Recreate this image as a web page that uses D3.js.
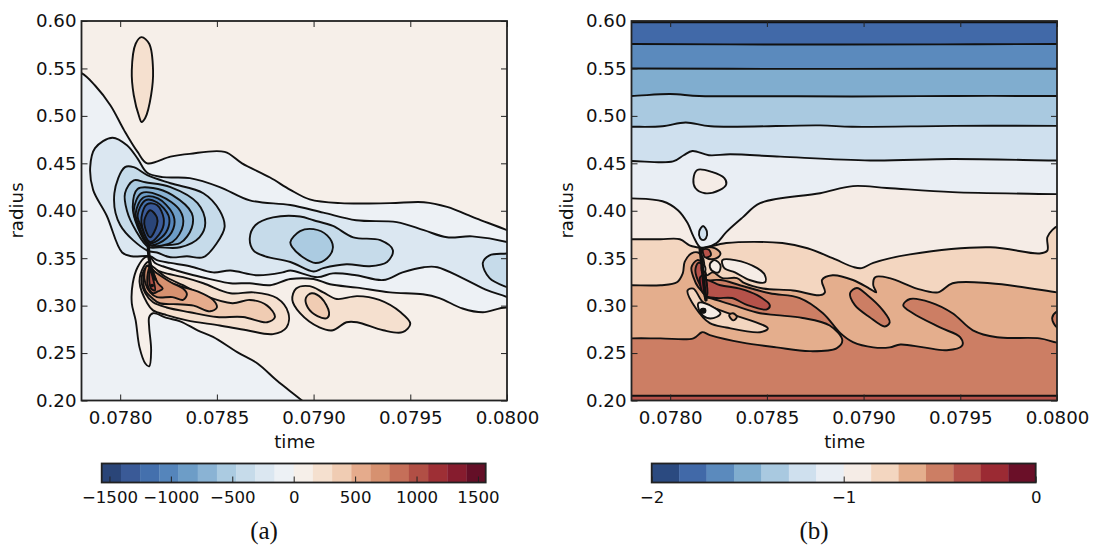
<!DOCTYPE html>
<html><head><meta charset="utf-8">
<script src="https://cdn.jsdelivr.net/npm/d3@7"></script>
<style>
html,body{margin:0;padding:0;background:#fff}
svg{display:block}
text{font-family:"DejaVu Sans",sans-serif;fill:#111}
</style></head><body>
<script>
// All contour points are [time x 1e5, radius x 1e3].
const timeTicks=[0.0780,0.0785,0.0790,0.0795,0.0800];
const radiusTicks=[0.20,0.25,0.30,0.35,0.40,0.45,0.50,0.55,0.60];
const barTicksA=[-1500,-1000,-500,0,500,1000,1500];
const barTicksB=[-2,-1,0];
const bandsA=["#2a4578","#3a5a97","#4470ad","#5585bb","#6d9dc7","#8ab3d4","#abcbe1","#c6dbea","#dbe7f1","#edf1f5","#f6efe9","#f5e0cf","#f0ccb3","#e5ab8c","#d69170","#c56f59","#b14f45","#9e2f35","#861c2e","#640f27"];
const bandsB=["#2b4a80","#4169a8","#5b8abd","#80adcf","#a9c9e0","#cfe0ee","#e9eef4","#f5ece6","#f3d6c0","#e4ae8d","#cc7e64","#b5524a","#9b2a33","#6a0f28"];

const aZero=[[7770,550],[7780,545],[7787,532],[7795,511],[7802,485],[7809,462],[7814,450],[7826,457],[7836,460],[7854,462],[7863,450],[7877.5,435],[7888,422],[7898,412],[7914,408],[7939.5,408],[7957,409],[7969,404],[7984,392],[8000,379.5],[8012,369],[8012,290],[8000,298],[7987.5,293],[7977,297],[7965,308],[7956.5,312],[7939.5,314],[7922.5,319],[7908.5,322.5],[7900,328],[7888,328],[7877.5,321.5],[7867,323.6],[7857,323.6],[7846.5,328],[7838,332],[7829,337],[7822,341.5],[7818,345],[7815.5,351],[7813,351],[7809,340.5],[7806.5,323.6],[7806,302.5],[7808,284.5],[7810,256],[7813,239],[7815,236],[7816,253],[7815,277],[7815,288],[7817,292],[7824,287],[7831,283.5],[7840,274],[7848,267],[7860.5,251],[7871,239],[7881,221],[7894,200],[7903,184],[7769,184],[7769,559]];
const aIsland=[[7811,583],[7815,576],[7817,548],[7816,522],[7813,498],[7811,493.5],[7810,498],[7807,522],[7806,548],[7808,576]];
const aBlue1=[[7784.5,446],[7787,466],[7796,477],[7803.5,469],[7809,455],[7814,440],[7822,435.5],[7836,434.4],[7851.5,425],[7867,411],[7888,406],[7905,398],[7922,390],[7943,388],[7957,379.5],[7969,372],[7982,373],[8000,367],[8012,358],[8012,296],[8000,309],[7990,316],[7977,329],[7964,340.5],[7957,340.5],[7946,335],[7936,327],[7922,332],[7910,334],[7902,330],[7888,337],[7884,335],[7871,332],[7857,337],[7848,335],[7836,341.5],[7826,345],[7819,348],[7815.5,352],[7806,352],[7801,356],[7793,395],[7786,422]];
const aBlue1b=[[8012,358],[8000,355],[7991,353],[7987.5,345],[7991,329],[8000,319.5],[8012,312]];
const aBlue2=[[7797,418.5],[7802.5,446],[7807,446],[7814,437.5],[7826,429],[7843,418.5],[7851.5,400],[7854,383],[7850,366],[7843,351],[7834.5,352],[7826,351],[7819,356],[7814,358],[7800,385]];
const aBlue3=[[7802.5,418.5],[7807,432],[7813,430],[7826,425],[7840,408],[7844,387],[7841,372],[7831,361.5],[7820.5,361.5],[7814.5,362],[7808,379.5],[7803.5,400]];
const aBlue4=[[7806.5,404],[7809,423],[7817,424],[7827,416.5],[7837,397.5],[7837,382],[7831,366],[7820.5,364],[7814.5,364],[7809,383]];
const aBlue5=[[7807,400],[7811,418.5],[7820.5,416],[7831,400],[7832.5,385],[7827,367],[7815.5,364],[7809.5,383]];
const aBlue6=[[7808,397],[7812,414],[7819.5,413],[7827,397.5],[7828,385],[7824,371],[7815.5,364],[7810,383]];
const aBlue7=[[7809,395],[7813,411],[7819,409],[7825,395],[7825,383],[7821.5,372],[7815.5,366],[7811,383]];
const aBlue8=[[7811,393],[7814,407],[7819,406],[7822.5,392],[7821.5,379.5],[7815.5,367],[7811.5,382]];
const aBlue9=[[7812.5,390],[7815.5,400.5],[7819,393],[7819,385],[7815.5,372],[7813,381]];
const aSide1=[[7867,371],[7870,385],[7879,393],[7893,394],[7900,390],[7910,384],[7920.5,372],[7934.5,369],[7941,358.4],[7938,346],[7929,341.5],[7917,343.6],[7905,339.5],[7900,336],[7888,346],[7875,352],[7869,358]];
const aSide2=[[7888,367],[7893,378.5],[7900,380.6],[7907,374],[7910,361.5],[7907,350],[7901,345],[7894.5,351],[7889,361.5]];
const aPeach1=[[7814.5,346],[7817,339.5],[7822,335],[7832.5,330],[7843,323.6],[7857,313],[7869,314],[7881,308],[7887,292],[7886,277],[7879,270],[7865.5,274],[7851.5,279],[7834.5,284.5],[7824,290],[7817,295],[7814,302.5],[7810,325],[7812,340.5]];
const aPeach1b=[[7889,306],[7891,318],[7898,320.5],[7905,314],[7912,307],[7922.5,310],[7934,306],[7945,293],[7950,281],[7946,272],[7936,274],[7922.5,282.5],[7917,282.5],[7910,274],[7903,277],[7893,292]];
const aPeach2b=[[7896,308],[7899,313],[7904,308],[7908,293],[7907,287],[7902,289],[7897,298]];
const aPeach2=[[7815,343],[7823,331],[7832.5,321.5],[7843,311],[7858,302.5],[7867,306],[7876,300],[7880,288],[7876,282.5],[7863.5,288],[7850,288],[7836,293],[7824,298],[7817,303.5],[7813,313],[7811,327],[7813,339.5]];
const aPeach3=[[7815.5,340.5],[7820.5,330],[7831,320.5],[7840,315],[7848,306],[7850,298],[7846.5,294],[7838,300],[7829.5,301.5],[7820.5,302.5],[7816.5,308],[7813,316],[7812,330],[7814,340.5]];
const aPeach4=[[7815.5,339.5],[7820.5,332],[7827,323.6],[7832.5,318],[7834.5,312],[7832.5,306],[7827,309],[7819,309],[7815.5,314],[7813,323.6],[7812.5,334],[7814,342]];
const aPeach5=[[7815.5,340.5],[7818,330],[7819.5,323.6],[7822,318],[7819.5,315],[7817,313],[7814.5,319.5],[7814,330]];
const aPeach6=[[7815.5,338],[7817,328],[7818,316],[7816,318],[7815,328]];
const aCore=[[7814.5,364],[7815,350],[7816,340],[7818,328]];
const aDot=[[7816,322],[7817,322],[7817,320.5],[7816,320.5]];

const bBand1=[[7770,598.7],[7780,598.7],[7860,598.7],[7940,598.7],[8000,598.7],[8010,598.7],[8010,190],[7770,190]];
const bBand2=[[7770,575.7],[7780,575.7],[7860,575.2],[7940,575.4],[8000,575.7],[8010,575.7],[8010,190],[7770,190]];
const bBand3=[[7770,550],[7780,550],[7860,549.5],[7940,549.7],[8000,549.7],[8010,549.7],[8010,190],[7770,190]];
const bBand4=[[7770,521],[7780,521],[7800,523],[7815,521],[7854,520.7],[7894,520.5],[7947,521],[8000,521],[8010,521],[8010,190],[7770,190]];
const bBand5=[[7770,488.5],[7780,488.5],[7796,489],[7808,493],[7821,489],[7877.5,490],[7894,488.5],[7947,489.5],[8000,489.5],[8010,489.5],[8010,190],[7770,190]];
const bBand6=[[7770,452.5],[7780,452.5],[7801.5,452],[7807,458.5],[7811.5,463],[7820,458.5],[7831,459.5],[7857,457],[7903.5,453],[7946,454.5],[8000,453],[8010,453],[8010,190],[7770,190]];
const bIsland=[[7812,433],[7814,443],[7821.5,441],[7828,434.5],[7829,428],[7825.5,421.7],[7818,418.5],[7813,424]];
const bBand7=[[7770,413],[7780,413],[7796,410],[7804,400.6],[7809,387],[7812,373],[7815.5,361.5],[7818.5,361.5],[7824,366],[7829,377.5],[7837.5,393],[7846.5,408],[7877.5,418.5],[7894.5,426],[7912,424],[7946,419.6],[8000,417.5],[8010,417],[8010,190],[7770,190]];
const bOval=[[7817,384],[7819,378],[7818.5,371],[7817,369],[7815.5,371],[7815,378]];
const bBand8=[[7770,370],[7780,370],[7795,370],[7805,370],[7810,363.6],[7814,361.5],[7817,360.5],[7829,366],[7858,366],[7871,360.5],[7884,350],[7895,340.5],[7899,339.5],[7905,345],[7924,354],[7965.5,361.5],[7991,355],[7995,358],[7995,372],[7997.5,379.5],[8000.5,384],[8009,384],[8010,190],[7770,190]];
const bIslandA=[[7827,348],[7833.5,348],[7845,339.5],[7849,332],[7849,324.6],[7841,327],[7833.5,335],[7828,339.5]];
const bRing=[[7823,348],[7826,342.5],[7825,335],[7821.5,337],[7820.5,343.5]];
const bBand9=[[7770,321.5],[7780,321.5],[7795,321.5],[7803.5,324.6],[7806.5,334],[7807.5,346],[7811,355],[7814.5,356],[7817,350],[7818,337],[7819,332],[7822,335],[7827,329],[7834.5,329],[7838.5,323.6],[7848,318],[7863.5,316],[7877.5,311],[7880,314],[7878.5,327],[7884,332],[7894.5,327],[7903,318],[7906.5,314],[7905,321.5],[7906,330],[7913.5,329],[7927.5,318],[7938.5,314],[7946,323.6],[7965.5,323.6],[8000,314],[8010,311],[8010,190],[7770,190]];
const bTop=[[7817,360.5],[7823,360.5],[7826,355],[7824,350],[7819,350]];
const bTop2=[[7817,359],[7820,359],[7821,353],[7818,351]];
const bBand10=[[7770,265],[7780,265.5],[7795,265.5],[7812,265.5],[7816.5,272],[7820.5,269],[7837.5,261],[7855,256],[7872,252],[7886,255],[7889,263.5],[7882.5,279],[7868.5,287],[7855,290],[7846.5,292],[7832.5,300.5],[7820.5,308],[7818,309],[7818,316],[7819,325],[7826,327],[7836,321.5],[7851.5,313],[7867,308],[7879,292],[7888,271],[7894.5,261.5],[7905,256],[7913.5,256],[7919,259],[7931,256],[7943,253],[7951,258],[7950,266.6],[7939.5,277],[7925.5,292],[7920.5,300.5],[7924,307],[7934.5,303.5],[7946,292],[7956.5,274],[7969,266.6],[7991,265.5],[8000,261],[8010,258],[8010,190],[7770,190]];
const bBlob=[[7893,313],[7896.5,318.5],[7902,311],[7910,295],[7913.5,282.5],[7911,278],[7903,288],[7895.5,300.5]];
const bEdge=[[8006,297],[8000,294],[7997.5,287],[8000,277],[8006,274]];
const bBand11=[[7770,205],[7780,205],[7860,205],[7940,205],[8000,205],[8010,205],[8010,190],[7770,190]];
const bTongue=[[7818,327],[7826,321.5],[7836,318],[7845,311],[7851.5,300.5],[7850,296],[7840,300.5],[7832,308],[7824,308],[7818,311]];
const bLobe10=[[7811,340.5],[7814,348],[7816.5,345],[7818.5,313],[7814.5,319.5],[7812,330]];
const bLobe11=[[7813,337],[7814.5,345],[7817,342.5],[7818.5,313],[7815.5,321.5]];
const bLobe12=[[7815.5,330],[7817.5,332],[7819,311],[7817,313]];
const bSpot=[[7816.5,343],[7818,341],[7818,336],[7816.5,336]];
const bLower8=[[7809,316],[7812,318],[7817,303.5],[7826,295],[7850.5,276],[7846.5,272],[7829,277],[7820.5,281.5],[7813,298]];
const bLower7=[[7814.5,302.5],[7818,302.5],[7826,292],[7824,288],[7819,287],[7815.5,293]];
const bTiny=[[7830.5,290],[7832.5,292],[7834.5,288],[7832.5,284.5]];
const bDot=[[7816,296],[7818,296.5],[7818,293],[7816,293]];
const bCore=[[7815.5,360],[7816.5,342],[7817.5,321.5],[7818.5,306]];

const layersA=[[aZero,9],[aIsland,11],[aBlue1,8],[aSide1,7],[aSide2,6],[aBlue1b,7],[aBlue2,7],[aBlue3,6],[aBlue4,5],[aBlue5,4],[aBlue6,3],[aBlue7,2],[aBlue8,1],[aBlue9,0],
 [aPeach1,11],[aPeach1b,11],[aPeach2b,12],[aPeach2,12],[aPeach3,13],[aPeach4,14],[aPeach5,15],[aPeach6,16]];
const layersB=[[bBand1,1],[bBand2,2],[bBand3,3],[bBand4,4],[bBand5,5],[bBand6,6],[bIsland,7],[bBand7,7],[bOval,5],[bBand8,8],[bIslandA,7],[bRing,7],[bBand9,9],[bTop,9],[bTop2,11],[bBand10,10],[bBlob,10],[bEdge,10],[bBand11,11],[bTongue,11],[bLobe10,10],[bLobe11,11],[bLobe12,12],[bSpot,7],[bLower8,8],[bLower7,7],[bTiny,9],[bDot,13]];

const W=1094,H=546,FS=18.2;
const svg=d3.select("body").append("svg").attr("width",W).attr("height",H);
const defs=svg.append("defs");
const yScale=d3.scaleLinear().domain([0.2,0.6]).range([400.5,21]);

function panel(id,left,layers,bands,base,core,dot){
  const right=left+425.5;
  const x=d3.scaleLinear().domain([0.0778,0.08]).range([left,right]);
  defs.append("clipPath").attr("id",id).append("rect").attr("x",left).attr("y",21).attr("width",right-left).attr("height",379.5);
  const g=svg.append("g");
  const area=g.append("g").attr("clip-path",`url(#${id})`);
  area.append("rect").attr("x",left).attr("y",21).attr("width",right-left).attr("height",379.5).attr("fill",base);
  const closed=d3.line().x(d=>x(d[0]/1e5)).y(d=>yScale(d[1]/1e3)).curve(d3.curveCatmullRomClosed.alpha(0.5));
  const open=d3.line().x(d=>x(d[0]/1e5)).y(d=>yScale(d[1]/1e3)).curve(d3.curveCatmullRom.alpha(0.5));
  area.selectAll("path.c").data(layers).join("path").attr("class","c")
    .attr("d",d=>closed(d[0])).attr("fill",d=>bands[d[1]])
    .attr("stroke","#111").attr("stroke-width",1.9).attr("stroke-linejoin","round");
  area.append("path").attr("d",open(core)).attr("fill","none").attr("stroke","#111").attr("stroke-width",3.4).attr("stroke-linecap","round");
  area.append("path").attr("d",closed(dot)).attr("fill","#111").attr("stroke","#111").attr("stroke-width",1.5);

  const sty=a=>{a.select(".domain").remove();a.selectAll("line").attr("stroke","#222").attr("stroke-width",1);a.selectAll("text").attr("font-size",FS).attr("fill","#111").attr("font-family",'"DejaVu Sans",sans-serif');};
  g.append("g").attr("transform",`translate(0,400.5)`).call(d3.axisBottom(x).tickValues(timeTicks).tickFormat(d3.format(".4f")).tickSize(-6).tickPadding(11)).call(sty);
  g.append("g").attr("transform",`translate(0,21)`).call(d3.axisTop(x).tickValues(timeTicks).tickFormat("").tickSize(-6)).call(sty);
  g.append("g").attr("transform",`translate(${left},0)`).call(d3.axisLeft(yScale).tickValues(radiusTicks).tickFormat(d3.format(".2f")).tickSize(-6).tickPadding(5)).call(sty);
  g.append("g").attr("transform",`translate(${right},0)`).call(d3.axisRight(yScale).tickValues(radiusTicks).tickFormat("").tickSize(-6)).call(sty);
  g.append("rect").attr("x",left).attr("y",21).attr("width",right-left).attr("height",379.5).attr("fill","none").attr("stroke","#222").attr("stroke-width",1.8);
  g.append("text").attr("x",(left+right)/2+0.5).attr("y",448).attr("text-anchor","middle").attr("font-size",FS).text("time");
  g.append("text").attr("transform",`translate(${left-59},${210.5}) rotate(-90)`).attr("text-anchor","middle").attr("font-size",FS).text("radius");
}

function colorbar(left,bands,domain,ticks,fmt,caption,captionX){
  const w=384,top=463.5,h=19;
  const b=d3.scaleLinear().domain(domain).range([left,left+w]);
  const g=svg.append("g");
  const idx=d3.scaleBand().domain(d3.range(bands.length)).range([left,left+w]);
  g.selectAll("rect.b").data(bands).join("rect").attr("class","b").attr("x",(d,i)=>idx(i)).attr("y",top).attr("width",idx.bandwidth()+0.3).attr("height",h).attr("fill",d=>d);
  const ax=g.append("g").attr("transform",`translate(0,${top+h})`).call(d3.axisBottom(b).tickValues(ticks).tickFormat(fmt).tickSize(-6).tickPadding(9));
  ax.select(".domain").remove();
  ax.selectAll("line").attr("stroke","#222");
  ax.selectAll("text").attr("font-size",16.6).attr("fill","#111").attr("font-family",'"DejaVu Sans",sans-serif');
  g.append("rect").attr("x",left).attr("y",top).attr("width",w).attr("height",h).attr("fill","none").attr("stroke","#222").attr("stroke-width",1.8);
  g.append("text").attr("x",captionX).attr("y",539).attr("text-anchor","middle").attr("font-size",25).style("font-family",'"Liberation Serif",serif').text(caption);
}

panel("pa",81.5,layersA,bandsA,bandsA[10],aCore,aDot);
panel("pb",631.5,layersB,bandsB,bandsB[0],bCore,bDot);
const minus=f=>d=>f(d).replace("-","\u2212");
colorbar(101.7,bandsA,[-1563,1563],barTicksA,minus(d3.format("d")),"(a)",264);
colorbar(651.7,bandsB,[-2,0],barTicksB,minus(d3.format("d")),"(b)",814);
</script>
</body></html>
